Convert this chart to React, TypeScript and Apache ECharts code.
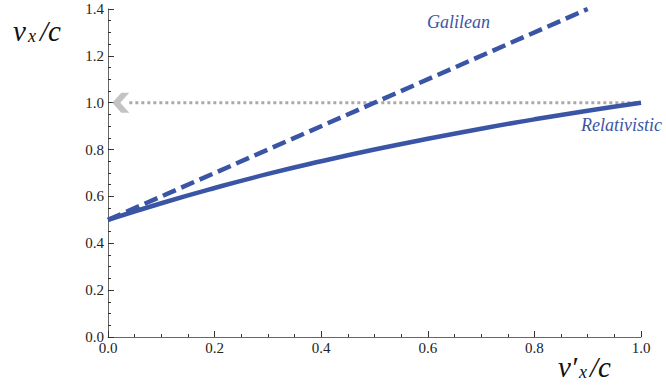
import React, { useEffect, useRef } from "react";
import * as echarts from "echarts";

const galileanX = [0, 0.9];
const galileanY = [0.5, 1.4];
const relX = [0, 0.1, 0.2, 0.3, 0.4, 0.5, 0.6, 0.7, 0.8, 0.9, 1.0];
const relY = [0.5, 0.571, 0.636, 0.696, 0.75, 0.8, 0.846, 0.889, 0.929, 0.966, 1.0];
const limitX = [0.04, 1.0];
const limitY = [1.0, 1.0];
const arrowPoint = [0.024, 1.0];

const BLUE = "#3a55a6";
const SERIF = "Liberation Serif, Times New Roman, DejaVu Serif, serif";

function mathLabel(x: number, y: number, prime: boolean) {
  return {
    type: "group",
    x,
    y,
    children: [
      { type: "text", x: 0, y: 0, style: { text: prime ? "v′" : "v", fontFamily: SERIF, fontStyle: "italic", fontSize: 29, fill: "#111" } },
      { type: "text", x: prime ? 21 : 15, y: 11, style: { text: "x", fontFamily: SERIF, fontStyle: "italic", fontSize: 18, fill: "#111" } },
      { type: "text", x: prime ? 32 : 27, y: 0, style: { text: "/c", fontFamily: SERIF, fontStyle: "italic", fontSize: 29, fill: "#111" } },
    ],
  };
}

export default function App() {
  const ref = useRef<HTMLDivElement>(null);
  useEffect(() => {
    const chart = echarts.init(ref.current!, null, { renderer: "svg" });
    const axisCommon = {
      type: "value" as const,
      interval: 0.2,
      axisLine: { show: true, lineStyle: { color: "#666", width: 1 } },
      axisTick: { show: true, inside: true, length: 6, lineStyle: { color: "#333" } },
      minorTick: { show: true, splitNumber: 4, length: 3, lineStyle: { color: "#333" } },
      splitLine: { show: false },
      axisLabel: {
        color: "#222",
        fontFamily: SERIF,
        fontSize: 15,
        margin: 4,
        formatter: (v: number) => v.toFixed(1),
      },
    };
    chart.setOption({
      animation: false,
      textStyle: { fontFamily: SERIF },
      grid: { left: 108, right: 25, top: 9, bottom: 54 },
      xAxis: { ...axisCommon, min: 0, max: 1, axisLabel: { ...axisCommon.axisLabel, margin: 3 } },
      yAxis: { ...axisCommon, min: 0, max: 1.4, axisLabel: { ...axisCommon.axisLabel, margin: 4 } },
      series: [
        {
          type: "line",
          data: limitX.map((x, i) => [x, limitY[i]]),
          showSymbol: false,
          lineStyle: { color: "#aaaaaa", width: 3, type: [3, 3] },
          z: 1,
        },
        {
          type: "scatter",
          data: [arrowPoint],
          symbol: "path://M9,0 L0,10 L9,20 L17,20 L8,10 L17,0 Z",
          symbolSize: [17, 20],
          itemStyle: { color: "#b4b4b4" },
          z: 1,
        },
        {
          type: "line",
          data: galileanX.map((x, i) => [x, galileanY[i]]),
          showSymbol: false,
          lineStyle: { color: BLUE, width: 4.5, type: [14, 6] },
          z: 3,
        },
        {
          type: "line",
          data: relX.map((x, i) => [x, relY[i]]),
          showSymbol: false,
          smooth: true,
          lineStyle: { color: BLUE, width: 4.5 },
          z: 4,
        },
      ],
      graphic: [
        {
          type: "text",
          left: 427,
          top: 13,
          style: {
            text: "Galilean",
            fill: BLUE,
            fontFamily: SERIF,
            fontStyle: "italic",
            fontSize: 18,
          },
        },
        {
          type: "text",
          left: 581,
          top: 116,
          style: {
            text: "Relativistic",
            fill: BLUE,
            fontFamily: SERIF,
            fontStyle: "italic",
            fontSize: 18,
          },
        },
        mathLabel(13, 16, false),
        mathLabel(558, 352, true),
      ],
    });
    return () => chart.dispose();
  }, []);
  return <div ref={ref} style={{ width: 666, height: 391, position: "absolute", left: 0, top: 0 }} />;
}
